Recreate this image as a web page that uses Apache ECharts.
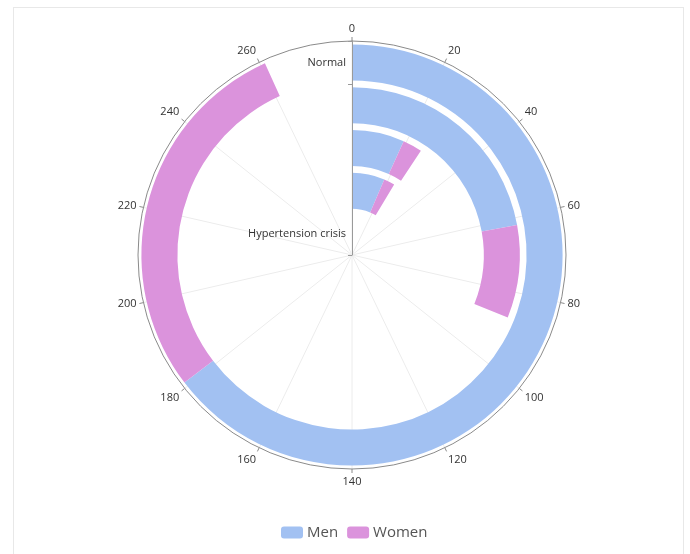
<!DOCTYPE html>
<html>
<head>
<meta charset="utf-8">
<script src="https://cdn.jsdelivr.net/npm/echarts@6/dist/echarts.min.js"></script>
<style>
html,body{margin:0;padding:0;background:#fff;}
#frame{position:absolute;left:13px;top:7px;width:669px;height:560px;border:1px solid #e8e8e8;}
#chart{position:absolute;left:0;top:0;width:690px;height:554px;}
</style>
</head>
<body>
<div id="frame"></div>
<div id="chart"></div>
<script>
const categories = ['Hypertension crisis', 'Hypertension stage 2', 'Hypertension stage 1', 'Elevated', 'Normal'];
const menValues = [0, 18, 19, 62, 181];
const womenValues = [0, 6, 7, 25, 80];
const seriesNames = ['Men', 'Women'];
const angleMax = 280;
const angleInterval = 20;

const chart = echarts.init(document.getElementById('chart'));
const font = '"Open Sans", "Noto Sans", sans-serif';
chart.setOption({
  animation: false,
  color: ['#a2c1f2', '#db93dc'],
  polar: { center: [352, 255], radius: 214 },
  angleAxis: {
    type: 'value', min: 0, max: angleMax, interval: angleInterval,
    startAngle: 90, clockwise: true,
    axisLine: { lineStyle: { color: '#8a8a8a', width: 1 } },
    axisTick: { show: true, length: 4, lineStyle: { color: '#8a8a8a' } },
    axisLabel: {
      color: '#333', fontSize: 11, fontFamily: font, margin: 7,
      formatter: v => (v === angleMax ? '' : String(v))
    },
    splitLine: { show: true, lineStyle: { color: '#ececec', width: 1 } }
  },
  radiusAxis: {
    type: 'category', data: categories, z: 10,
    axisLine: { lineStyle: { color: '#9a9a9a', width: 1 } },
    axisTick: { show: true, length: 4, lineStyle: { color: '#9a9a9a' } },
    axisLabel: { interval: 3, color: '#333', fontSize: 11, fontFamily: font, margin: 6 },
    splitLine: { show: false }
  },
  legend: {
    bottom: 9, left: 276,
    itemWidth: 22, itemHeight: 12, itemGap: 9, icon: 'roundRect',
    textStyle: { color: '#555', fontSize: 15, fontFamily: font, padding: [0, 0, 0, -1] },
    data: seriesNames
  },
  series: [
    { type: 'bar', coordinateSystem: 'polar', name: seriesNames[0], stack: 'a', data: menValues, barWidth: 36 },
    { type: 'bar', coordinateSystem: 'polar', name: seriesNames[1], stack: 'a', data: womenValues, barWidth: 36 }
  ]
});
</script>
</body>
</html>
